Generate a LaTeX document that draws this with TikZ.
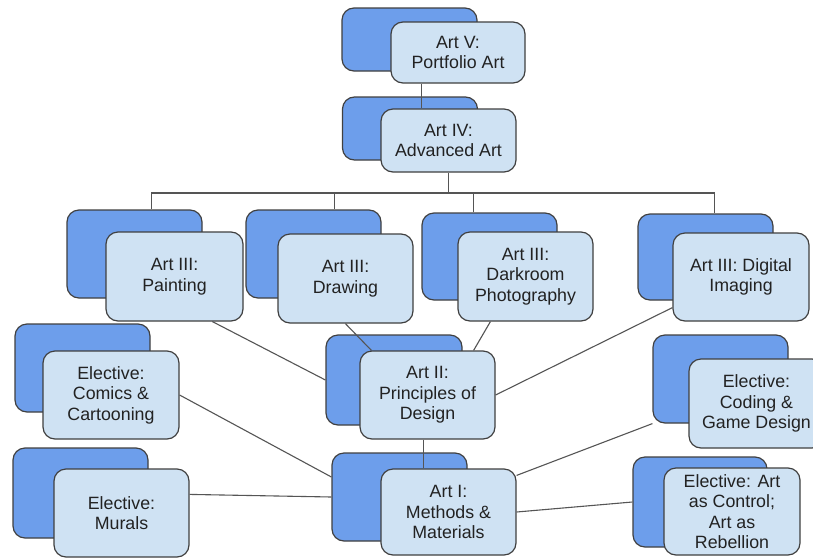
\documentclass[tikz,border=0pt]{standalone}
\usepackage{fontspec}
\setmainfont{Liberation Sans}
\usetikzlibrary{calc}
\definecolor{backblue}{HTML}{6D9EEB}
\definecolor{frontblue}{HTML}{CFE2F3}
\definecolor{edgecol}{HTML}{404040}
\definecolor{wirecol}{HTML}{555555}
\definecolor{textcol}{HTML}{222222}
\pgfdeclarelayer{bglayer}
\pgfdeclarelayer{fglayer}
\pgfsetlayers{bglayer,main,fglayer}
\begin{document}
\begin{tikzpicture}[x=1pt,y=-1pt,
  backbox/.style={draw=edgecol, line width=1.2pt, fill=backblue, rounded corners=12pt,
    minimum width=135pt, minimum height=88pt, inner sep=0pt},
  frontbox/.style={draw=edgecol, line width=1.2pt, fill=frontblue, rounded corners=12pt,
    minimum width=135pt, minimum height=88pt, inner sep=0pt, align=center,
    font=\fontsize{17.8}{20.5}\selectfont, text=textcol},
  wire/.style={draw=wirecol, line width=1.1pt}]
\clip (0,0) rectangle (813,557);

\begin{pgfonlayer}{bglayer}
\fill[white] (0,0) rectangle (813,557);
\node[backbox, minimum height=63pt] (b5) at (409.5,39.5) {};
\node[backbox, minimum height=63pt] (b4) at (410,128.5) {};
\node[backbox] (bP) at (134.5,254) {};
\node[backbox] (bD) at (313.5,254) {};
\node[backbox, minimum height=87pt] (bK) at (489.5,256.5) {};
\node[backbox, minimum height=86pt] (bG) at (705.5,257) {};
\node[backbox] (bC) at (82.5,368) {};
\node[backbox, minimum height=90pt] (bM) at (80.5,493) {};
\node[backbox, minimum width=136pt, minimum height=90pt] (b2) at (394,380) {};
\node[backbox] (b1) at (399.5,497) {};
\node[backbox] (bE) at (720.5,379) {};
\node[backbox, minimum width=134pt, minimum height=90pt] (bR) at (700,502) {};
\end{pgfonlayer}

\begin{pgfonlayer}{fglayer}
\node[frontbox, minimum width=134pt, minimum height=61pt] (f5) at (458,52.5) {Art V:\\Portfolio Art};
\node[frontbox, minimum height=63pt] (f4) at (448.5,140.5) {Art IV:\\Advanced Art};
\node[frontbox, minimum width=137pt, minimum height=89pt] (fP) at (174.5,276.5) {Art III:\\Painting};
\node[frontbox, minimum height=89pt] (fD) at (345.5,278.5) {Art III:\\Drawing};
\node[frontbox, minimum height=89pt] (fK) at (525.5,276.5) {Art III:\\Darkroom\\Photography};
\node[frontbox, minimum width=136pt] (fG) at (741,277) {Art III: Digital\\Imaging};
\node[frontbox, minimum width=136pt] (fC) at (111,395) {Elective:\\Comics \&\\Cartooning};
\node[frontbox] (fM) at (121.5,513) {Elective:\\Murals};
\node[frontbox] (f2) at (427.5,395) {Art II:\\Principles of\\Design};
\node[frontbox, minimum height=86pt] (f1) at (448.5,512) {Art I:\\Methods \&\\Materials};
\node[frontbox, minimum height=89pt] (fE) at (756.5,403.5) {Elective:\\Coding \&\\Game Design};
\node[frontbox, minimum width=136pt, minimum height=87pt] (fR) at (732,511.5) {Elective: Art\\as Control;\\Art as\\Rebellion};
\end{pgfonlayer}

% connectors
\coordinate (hy) at (0,193);
\coordinate (tP) at ($(bP.north west)+(85,0)$);
\coordinate (tD) at ($(bD.north west)+(89,0)$);
\coordinate (tK) at ($(bK.north west)+(52,0)$);
\coordinate (tG) at ($(bG.north west)+(77,0)$);

\draw[wire] ($(f5.south west)+(31,0)$) -- ($(f4.north west)+(41,0)$);
\draw[wire] (f4.south) -- (f4.south |- hy);
\draw[wire] (tP) -- (tP |- hy) -- (tG |- hy) -- (tG);
\draw[wire] (tD) -- (tD |- hy);
\draw[wire] (tK) -- (tK |- hy);

\draw[wire] ($(fP.south west)+(107,0)$) -- (b2.west);
\draw[wire] ($(fD.south west)+(68,0)$) -- ($(f2.north west)+(12,0)$);
\draw[wire] ($(fK.south west)+(33,0)$) -- ($(f2.north east)+(-22,0)$);
\draw[wire] ($(fG.south west)+(0,-14)$) -- (f2.east);
\draw[wire] (fC.east) -- ($(b1.west)+(0,-20)$);
\draw[wire] ($(fM.north east)+(0,26)$) -- (b1.west);
\draw[wire] ($(f2.south west)+(64,0)$) -- ($(f1.north west)+(43,0)$);
\draw[wire] ($(f1.north east)+(0,7)$) -- (bE.south west);
\draw[wire] (f1.east) -- (bR.west);
\end{tikzpicture}
\end{document}
